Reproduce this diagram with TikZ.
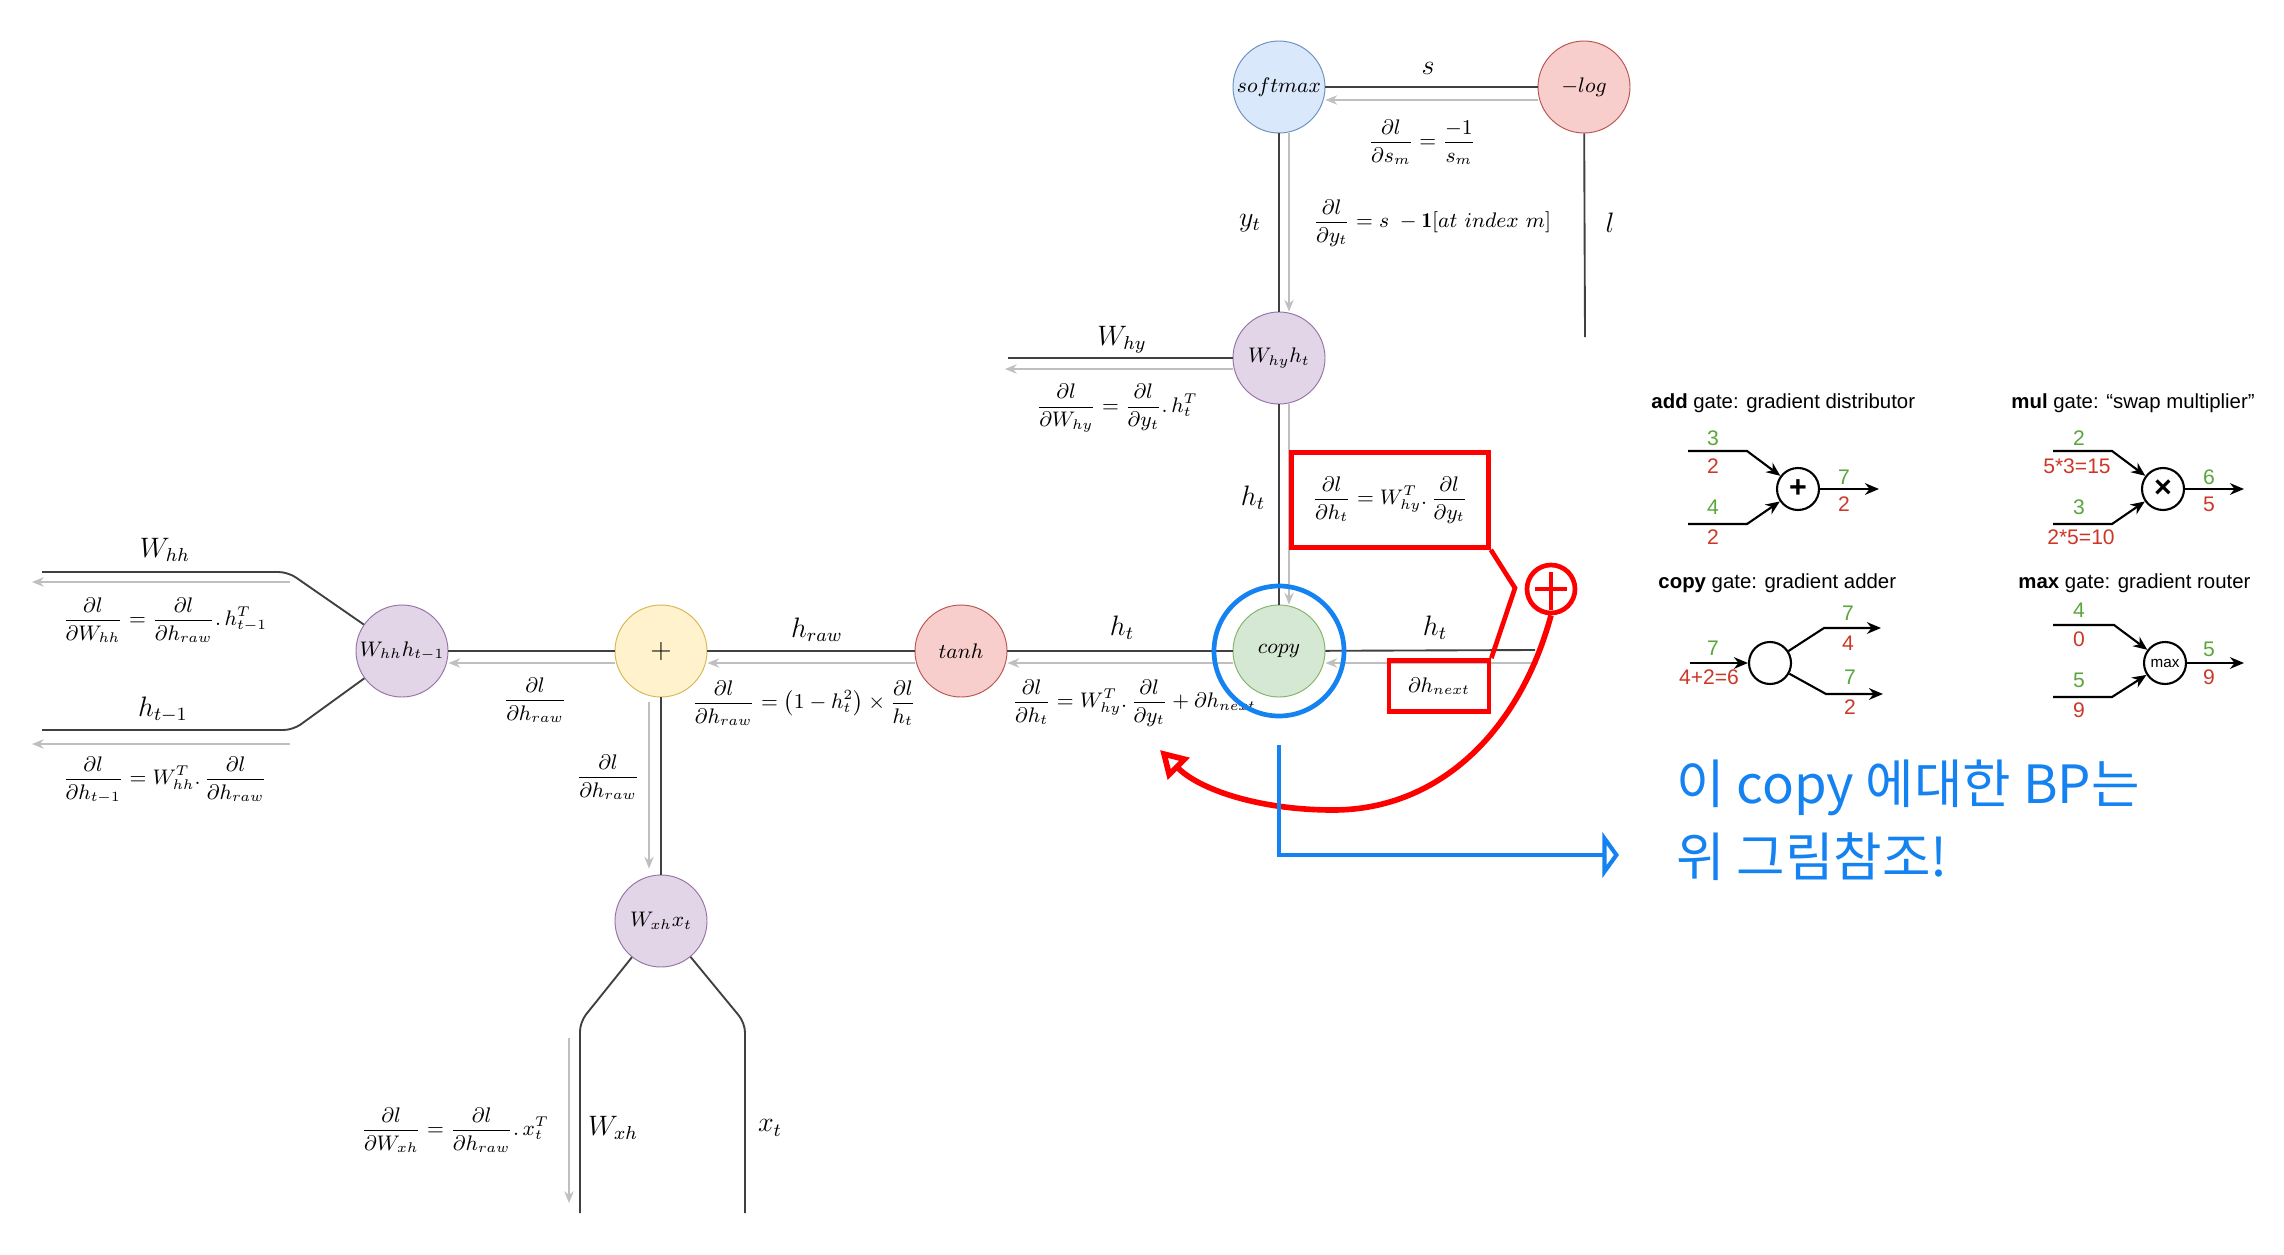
\documentclass[tikz,border=0pt]{standalone}
\usepackage{fontspec}
\usepackage{amsmath,amssymb,bm}
\usepackage{tikz}
\usetikzlibrary{arrows.meta,calc,positioning}
\newfontfamily\gatefont{Liberation Sans}
\newfontfamily\notefont{Noto Sans CJK KR}

% node colours
\definecolor{smfill}{HTML}{DAE8FC}\definecolor{smline}{HTML}{6C8EBF}
\definecolor{rdfill}{HTML}{F8CECC}\definecolor{rdline}{HTML}{B85450}
\definecolor{pufill}{HTML}{E1D5E7}\definecolor{puline}{HTML}{9673A6}
\definecolor{ylfill}{HTML}{FFF2CC}\definecolor{ylline}{HTML}{D6B656}
\definecolor{gnfill}{HTML}{D5E8D4}\definecolor{gnline}{HTML}{82B366}
\definecolor{pen}{RGB}{20,130,240}
\definecolor{gvalcol}{RGB}{90,165,60}
\definecolor{rvalcol}{RGB}{205,55,40}

\newcommand{\dlby}[1]{\dfrac{\partial l}{\partial #1}}

\tikzset{
  op/.style={circle,draw=#1line,fill=#1fill,minimum size=1.38cm,inner sep=0pt,font=\small},
  fwdline/.style={draw=black!75,line width=0.8pt},
  gradline/.style={draw=black!25,line width=0.6pt,-{Stealth[length=5pt,width=4pt]}},
  edgelbl/.style={font=\large},
  eqn/.style={font=\small},
  hilite/.style={draw=red,line width=2pt},
  redbox/.style={draw=red,line width=2pt,inner sep=0pt},
  penblue/.style={draw=pen,line width=2pt},
  gatecirc/.style={circle,draw,line width=0.9pt,minimum size=0.63cm,inner sep=0pt,
                   font=\gatefont\fontsize{13}{14}\selectfont\bfseries},
  gatewire/.style={draw,line width=0.9pt,-{Stealth[length=6pt,width=5pt]}},
  gtitle/.style={anchor=west,inner sep=0pt,font=\gatefont\fontsize{8.7}{10}\selectfont},
  gnum/.style={font=\gatefont\fontsize{9}{11}\selectfont,text=#1}
}

\begin{document}
\begin{tikzpicture}[x=0.015cm,y=-0.015cm]
  \fill[white] (0,0) rectangle (2284,1255);
  \useasboundingbox (0,0) rectangle (2284,1255);

  % Operation nodes
  \node[op=sm] (smax) at (1279,87) {$softmax$};
  \node[op=rd] (nlog) at (1584,87) {$-log$};
  \node[op=pu] (why) at (1279,358) {$W_{hy}h_t$};
  \node[op=gn] (cpy) at (1279,651) {$copy$};
  \node[op=rd] (tanh) at (961,651) {$tanh$};
  \node[op=yl,font=\large] (add) at (661,651) {$+$};
  \node[op=pu] (whh) at (402,651) {$W_{hh}h_{t-1}$};
  \node[op=pu] (wxh) at (661,921) {$W_{xh}x_t$};

  % Free ends of the graph
  \coordinate (lend) at (1585,337);
  \coordinate (whyend) at (1008,358);
  \coordinate (htend) at (1535,650);
  \coordinate (whhA) at (288,572);  \coordinate (whhB) at (42,572);
  \coordinate (hprevA) at (293,730); \coordinate (hprevB) at (42,730);
  \coordinate (wxhA) at (580,1022); \coordinate (wxhB) at (580,1213);
  \coordinate (xtA) at (745,1023);  \coordinate (xtB) at (745,1213);

  % Forward lines
  \draw[fwdline] (smax) -- (nlog);
  \draw[fwdline] (nlog) -- (lend);
  \draw[fwdline] (smax) -- (why);
  \draw[fwdline] (why) -- (whyend);
  \draw[fwdline] (why) -- (cpy);
  \draw[fwdline] (cpy) -- (htend);
  \draw[fwdline] (cpy) -- (tanh);
  \draw[fwdline] (tanh) -- (add);
  \draw[fwdline] (add) -- (whh);
  \draw[fwdline] (add) -- (wxh);
  \draw[fwdline,rounded corners=4] (whh) -- (whhA) -- (whhB);
  \draw[fwdline,rounded corners=4] (whh) -- (hprevA) -- (hprevB);
  \draw[fwdline,rounded corners=4] (wxh) -- (wxhA) -- (wxhB);
  \draw[fwdline,rounded corners=4] (wxh) -- (xtA) -- (xtB);

  % Gradient lines
  \draw[gradline] ($(nlog.west)+(0,13)$) -- ($(smax.east)+(0,13)$);
  \draw[gradline] ($(smax.south)+(10,0)$) -- ($(why.north)+(10,0)$);
  \draw[gradline] ($(why.west)+(0,11)$) -- ($(whyend)+(-3,11)$);
  \draw[gradline] ($(why.south)+(10,0)$) -- ($(cpy.north)+(10,0)$);
  \draw[gradline] ($(htend)+(3,13)$) -- ($(cpy.east)+(0,12)$);
  \draw[gradline] ($(cpy.west)+(0,12)$) -- ($(tanh.east)+(0,12)$);
  \draw[gradline] ($(tanh.west)+(0,12)$) -- ($(add.east)+(0,12)$);
  \draw[gradline] ($(add.west)+(0,12)$) -- ($(whh.east)+(0,12)$);
  \draw[gradline] ($(add.south)+(-12,5)$) -- ($(wxh.north)+(-12,-6)$);
  \draw[gradline] ($(whhA)+(2,10)$) -- ($(whhB)+(-10,10)$);
  \draw[gradline] ($(hprevA)+(-3,14)$) -- ($(hprevB)+(-10,14)$);
  \draw[gradline] ($(wxhA)+(-11,16)$) -- ($(wxhB)+(-11,-10)$);

  % Edge labels
  \node[edgelbl] (lbls) at (1428,68) {$s$};
  \node[edgelbl] (lblyt) at (1250,223) {$y_t$};
  \node[edgelbl] (lbll) at (1610,223) {$l$};
  \node[edgelbl] (lblwhy) at (1122,340) {$W_{hy}$};
  \node[edgelbl] (lblht) at (1253,498) {$h_t$};
  \node[edgelbl] (lblht2) at (1122,628) {$h_t$};
  \node[edgelbl] (lblht3) at (1435,628) {$h_t$};
  \node[edgelbl] (lblhraw) at (817,630) {$h_{raw}$};
  \node[edgelbl] (lblwhh) at (165,550) {$W_{hh}$};
  \node[edgelbl] (lblhprev) at (163,710) {$h_{t-1}$};
  \node[edgelbl] (lblwxh) at (613,1128) {$W_{xh}$};
  \node[edgelbl] (lblxt) at (770,1128) {$x_t$};

  % Gradient formulas
  \node[eqn] (gsm) at (1422,142) {$\dlby{s_m}=\dfrac{-1}{s_m}$};
  \node[eqn,anchor=west] (gyt) at (1305,223) {$\dlby{y_t}=s\;-\mathbf{1}[at\ index\ m]$};
  \node[eqn] (gwhy) at (1117,408) {$\dlby{W_{hy}}=\dlby{y_t}.\,h_t^T$};
  \node[eqn] (gwhh) at (165,620) {$\dlby{W_{hh}}=\dlby{h_{raw}}.\,h_{t-1}^T$};
  \node[eqn] (ghprev) at (165,780) {$\dlby{h_{t-1}}=W_{hh}^T.\,\dlby{h_{raw}}$};
  \node[eqn] (ghraw1) at (535,700) {$\dlby{h_{raw}}$};
  \node[eqn] (ghraw2) at (804,703) {$\dlby{h_{raw}}=\left(1-h_t^2\right)\times\dfrac{\partial l}{h_t}$};
  \node[eqn,anchor=west] (ght) at (1004,703) {$\dlby{h_t}=W_{hy}^T.\,\dlby{y_t}+\partial h_{next}$};
  \node[eqn] (ghraw3) at (608,777) {$\dlby{h_{raw}}$};
  \node[eqn] (gwxh) at (455,1130) {$\dlby{W_{xh}}=\dlby{h_{raw}}.\,x_t^T$};

  % Red marks
  \node[redbox,minimum width=2.955cm,minimum height=1.425cm,font=\small] (eqbox) at (1390,500)
       {$\dlby{h_t}=W_{hy}^T.\,\dlby{y_t}$};
  \node[redbox,minimum width=1.5cm,minimum height=0.765cm,font=\small] (nextbox) at (1439,686)
       {$\partial h_{next}$};
  \draw[hilite] (eqbox.south east) -- (1515,588) -- (nextbox.north east);
  \node[circle,draw=red,line width=2pt,minimum size=0.72cm,inner sep=0pt] (plusmk) at (1551,589) {};
  \draw[hilite] ($(plusmk.center)+(-16,0)$) -- ($(plusmk.center)+(16,0)$);
  \draw[hilite] ($(plusmk.center)+(0,-17)$) -- ($(plusmk.center)+(0,21)$);
  \draw[hilite,line width=2.4pt,-{Triangle[open,length=0.4cm,width=0.45cm]}] (plusmk.south)
       .. controls (1520,730) and (1440,810) .. (1333,810)
       .. controls (1260,810) and (1200,790) .. (1160,750);

  % Blue ring and note
  \node[circle,penblue,minimum size=1.95cm] (ring) at (cpy) {};
  \coordinate (noteend) at (1619,855);
  \draw[penblue,-{Triangle[open,length=0.25cm,width=0.68cm]}] ($(cpy)+(0,94)$) |- (noteend);
  \node[anchor=west,text=pen,font=\notefont\fontsize{22.5}{31}\selectfont,align=left] (note)
       at (1668,820) {이 copy 에대한 BP는\\위 그림참조!};

  % add gate
  \node[gtitle] (addttl) at (1651,403) {\textbf{add} gate: gradient distributor};
  \node[gatecirc] (addg) at (1798,489) {+};
  \draw[gatewire] (1688,451) -- (1747,451) -- (addg);
  \draw[gatewire] (1688,524) -- (1747,524) -- (addg);
  \draw[gatewire] (addg) -- (1879,489);
  \node[gnum=gvalcol] (add1g) at (1713,438) {3};
  \node[gnum=rvalcol] (add1r) at (1713,466) {2};
  \node[gnum=gvalcol] (add2g) at (1713,507) {4};
  \node[gnum=rvalcol] (add2r) at (1713,537) {2};
  \node[gnum=gvalcol] (addog) at (1844,477) {7};
  \node[gnum=rvalcol] (addor) at (1844,504) {2};

  % mul gate
  \node[gtitle] (multtl) at (2011,403) {\textbf{mul} gate: “swap multiplier”};
  \node[gatecirc] (mulg) at (2163,489) {×};
  \draw[gatewire] (2053,451) -- (2112,451) -- (mulg);
  \draw[gatewire] (2053,524) -- (2112,524) -- (mulg);
  \draw[gatewire] (mulg) -- (2244,489);
  \node[gnum=gvalcol] (mul1g) at (2079,438) {2};
  \node[gnum=rvalcol] (mul1r) at (2077,466) {5*3=15};
  \node[gnum=gvalcol] (mul2g) at (2079,507) {3};
  \node[gnum=rvalcol] (mul2r) at (2081,537) {2*5=10};
  \node[gnum=gvalcol] (mulog) at (2209,477) {6};
  \node[gnum=rvalcol] (mulor) at (2209,504) {5};

  % copy gate
  \node[gtitle] (cpyttl) at (1658,583) {\textbf{copy} gate: gradient adder};
  \node[gatecirc] (cpyg) at (1770,663) {};
  \draw[gatewire] (1690,663) -- (cpyg);
  \draw[gatewire] (cpyg) -- (1824,628) -- (1881,628);
  \draw[gatewire] (cpyg) -- (1826,694) -- (1883,694);
  \node[gnum=gvalcol] (cpyig) at (1713,648) {7};
  \node[gnum=rvalcol] (cpyir) at (1709,677) {4+2=6};
  \node[gnum=gvalcol] (cpy1g) at (1848,613) {7};
  \node[gnum=rvalcol] (cpy1r) at (1848,643) {4};
  \node[gnum=gvalcol] (cpy2g) at (1850,677) {7};
  \node[gnum=rvalcol] (cpy2r) at (1850,707) {2};

  % max gate
  \node[gtitle] (maxttl) at (2018,583) {\textbf{max} gate: gradient router};
  \node[gatecirc,font=\gatefont\fontsize{6.5}{7}\selectfont] (maxg) at (2165,663) {max};
  \draw[gatewire] (2053,625) -- (2114,625) -- (maxg);
  \draw[gatewire] (2053,697) -- (2112,697) -- (maxg);
  \draw[gatewire] (maxg) -- (2244,663);
  \node[gnum=gvalcol] (max1g) at (2079,610) {4};
  \node[gnum=rvalcol] (max1r) at (2079,639) {0};
  \node[gnum=gvalcol] (max2g) at (2079,680) {5};
  \node[gnum=rvalcol] (max2r) at (2079,710) {9};
  \node[gnum=gvalcol] (maxog) at (2209,649) {5};
  \node[gnum=rvalcol] (maxor) at (2209,677) {9};
\end{tikzpicture}
\end{document}
